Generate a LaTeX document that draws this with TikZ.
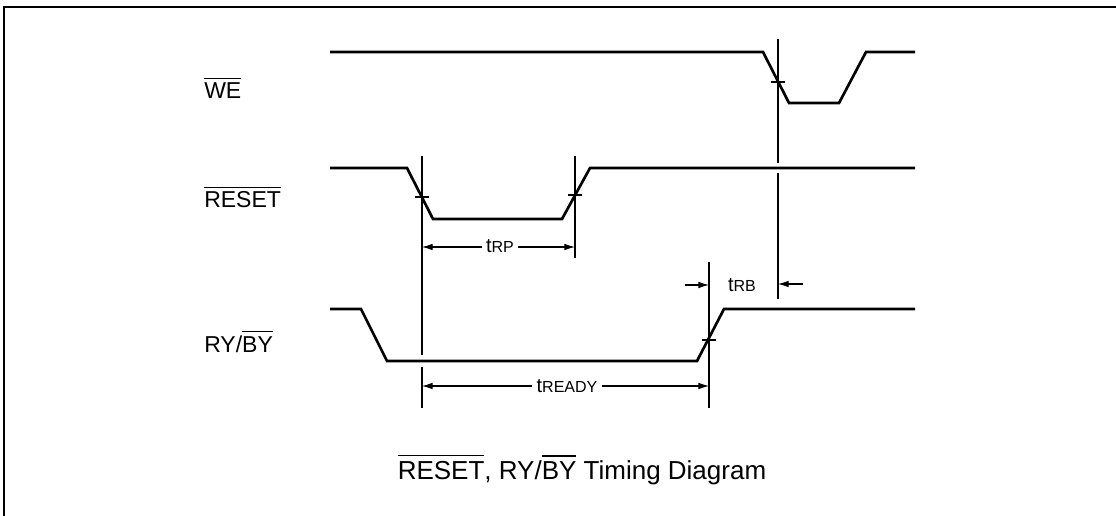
\documentclass[tikz,border=0pt]{standalone}
\usepackage{fontspec}
\setmainfont{Liberation Sans}
\usetikzlibrary{arrows.meta}
\newcommand\ovl[1]{\leavevmode\vbox{\hrule height 0.065em\kern 0.17em\hbox{#1}}}
\newcommand\tlab[1]{{\fontsize{15}{18}\selectfont t}{\fontsize{12}{14}\selectfont #1}}
\begin{document}
\begin{tikzpicture}[x=0.75pt,y=-0.75pt,
  sig/.style={line width=2pt, line join=miter},
  thinl/.style={line width=0.8pt},
  dim/.style={line width=0.8pt, -{Latex[length=8pt,width=5pt]}},
  siglabel/.style={anchor=base west, inner sep=0pt, font=\fontsize{17.25}{20}\selectfont},
  dimlabel/.style={anchor=base, inner sep=3pt}]
\useasboundingbox (0,0) rectangle (1116,516);
% frame
\draw[line width=1.6pt] (4,516) -- (4,7) -- (1116,7);
% signal labels
\node[siglabel] (lwe) at (204,99) {\ovl{WE}};
\node[siglabel] (lreset) at (204,208) {\ovl{RESET}};
\node[siglabel] (lry) at (204,352) {RY/\ovl{BY}};
% signals
\draw[sig] (330,52) -- (763,52) -- (789,103) -- (839,103) -- (866,52) -- (915,52);
\draw[sig] (330,168) -- (407,168) -- (433,219) -- (562,219) -- (590,168) -- (915,168);
\draw[sig] (330,309) -- (361,309) -- (387,361) -- (697,361) -- (724,309) -- (915,309);
% reference lines
\coordinate (v1t) at (422,156); \coordinate (v1a) at (422,355);
\coordinate (v1b) at (422,367); \coordinate (v1e) at (422,408);
\coordinate (v2t) at (575,156); \coordinate (v2e) at (575,258);
\coordinate (v3t) at (709,262); \coordinate (v3e) at (709,408);
\coordinate (v4t) at (778,39);  \coordinate (v4a) at (778,163);
\coordinate (v4b) at (778,173); \coordinate (v4e) at (778,299);
\draw[thinl] (v1t) -- (v1a) (v1b) -- (v1e);
\draw[thinl] (v2t) -- (v2e);
\draw[thinl] (v3t) -- (v3e);
\draw[thinl] (v4t) -- (v4a) (v4b) -- (v4e);
% ticks
\draw[thinl] (771,82) -- (785,82);
\draw[thinl] (415,197) -- (429,197);
\draw[thinl] (568,195) -- (582,195);
\draw[thinl] (702,340) -- (716,340);
% tRP
\node[dimlabel] (trp) at (500,253) {\tlab{RP}};
\coordinate (trpy) at (500,247);
\draw[dim] (trp.west |- trpy) -- (v1t |- trpy);
\draw[dim] (trp.east |- trpy) -- (v2t |- trpy);
% tREADY
\node[dimlabel] (trdy) at (567,392) {\tlab{READY}};
\coordinate (trdyy) at (567,386);
\draw[dim] (trdy.west |- trdyy) -- (v1t |- trdyy);
\draw[dim] (trdy.east |- trdyy) -- (v3t |- trdyy);
% tRB
\node[dimlabel] (trb) at (742,292) {\tlab{RB}};
\coordinate (rbl) at (685,285);
\coordinate (rbr) at (803,284);
\draw[dim] (rbl) -- (v3t |- rbl);
\draw[dim] (rbr) -- (v4t |- rbr);
% caption
\node[anchor=base, inner sep=0pt] (cap) at (582,479) {\fontsize{19.5}{23}\selectfont\ovl{RESET}, RY/\ovl{BY} Timing Diagram};
\end{tikzpicture}
\end{document}
